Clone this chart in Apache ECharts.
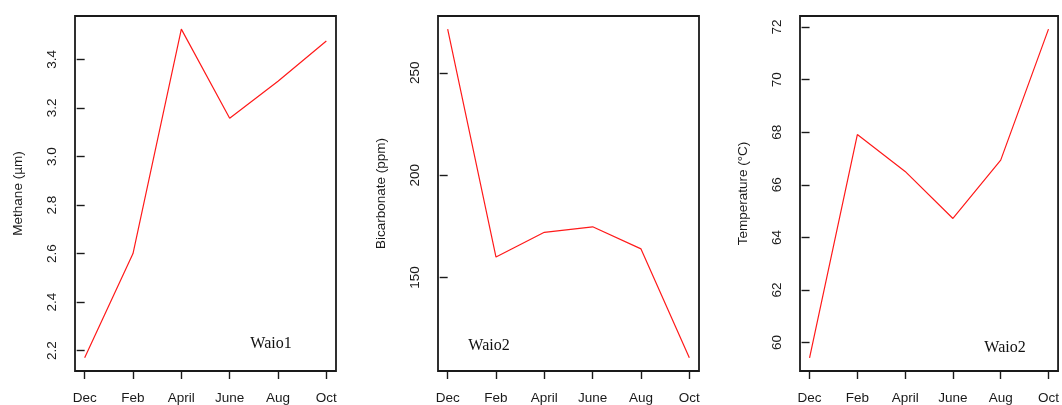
<!DOCTYPE html>
<html>
<head>
<meta charset="utf-8">
<script src="https://cdn.jsdelivr.net/npm/echarts@6/dist/echarts.min.js"></script>
<style>
  html, body { margin: 0; padding: 0; background: #fff; }
  #chart { width: 1062px; height: 405px; }
</style>
</head>
<body>
<div id="chart"></div>
<script>
// Sampling months
const months = ['Dec', 'Feb', 'April', 'June', 'Aug', 'Oct'];

// Measured series
const methane = [2.17, 2.60, 3.525, 3.158, 3.31, 3.476];
const bicarbonate = [271.3, 160.0, 172.1, 174.8, 164.0, 110.8];
const temperature = [59.42, 67.91, 66.51, 64.72, 66.94, 71.92];

// Tick values on each y axis
const methaneTicks = [2.2, 2.4, 2.6, 2.8, 3.0, 3.2, 3.4];
const bicarbonateTicks = [150, 200, 250];
const temperatureTicks = [60, 62, 64, 66, 68, 70, 72];

// Site labels
const siteLabels = ['Waio1', 'Waio2', 'Waio2'];

const monthIdx = months.map((_, i) => i);
const INK = '#1a1a1a';
const SANS = '"Liberation Sans", Arial, sans-serif';
const FS = 13.5;

// pad a data range by 4% on each side
function padded(vals) {
  const lo = Math.min(...vals), hi = Math.max(...vals);
  const p = (hi - lo) * 0.04;
  return [lo - p, hi + p];
}

const panels = [
  { vals: methane, ticks: methaneTicks, name: 'Methane (µm)', fmt: v => v.toFixed(1), left: 75, width: 261 },
  { vals: bicarbonate, ticks: bicarbonateTicks, name: 'Bicarbonate (ppm)', fmt: v => String(v), left: 438, width: 261 },
  { vals: temperature, ticks: temperatureTicks, name: 'Temperature (°C)', fmt: v => String(v), left: 800, width: 260 }
];

const grids = [], xAxes = [], yAxes = [], series = [];
panels.forEach((p, k) => {
  grids.push({
    left: p.left, top: 16, width: p.width, height: 358,
    show: true, borderColor: INK, borderWidth: 1.8, backgroundColor: 'transparent'
  });
  const xr = [-0.2, months.length - 1 + 0.2];
  xAxes.push({
    type: 'value', gridIndex: k, min: xr[0], max: xr[1],
    axisLine: { show: false },
    splitLine: { show: false },
    axisTick: { show: true, inside: false, length: 8, customValues: monthIdx, lineStyle: { color: INK, width: 1.4 } },
    axisLabel: {
      customValues: monthIdx, margin: 20, color: INK, fontFamily: SANS, fontSize: FS,
      formatter: v => months[Math.round(v)]
    }
  });
  const yr = padded(p.vals);
  yAxes.push({
    type: 'value', gridIndex: k, min: yr[0], max: yr[1],
    name: p.name, nameLocation: 'middle', nameGap: 50, nameRotate: 90,
    nameTextStyle: { color: INK, fontFamily: SANS, fontSize: FS },
    axisLine: { show: false },
    splitLine: { show: false },
    axisTick: { show: true, inside: false, length: 8, customValues: p.ticks, lineStyle: { color: INK, width: 1.4 } },
    axisLabel: {
      customValues: p.ticks, rotate: 90, margin: 16, color: INK, fontFamily: SANS, fontSize: FS,
      formatter: p.fmt
    }
  });
  series.push({
    type: 'line', xAxisIndex: k, yAxisIndex: k,
    data: p.vals.map((v, i) => [i, v]),
    showSymbol: false, symbol: 'none',
    lineStyle: { color: '#ff1a1a', width: 1.2 },
    silent: true, animation: false
  });
});

const chart = echarts.init(document.getElementById('chart'), null, { renderer: 'canvas' });
chart.setOption({
  animation: false,
  grid: grids, xAxis: xAxes, yAxis: yAxes, series: series
});

// site label inside each panel
const labelAnchors = [[271, 344], [489, 346], [1005, 348]];
chart.setOption({
  graphic: siteLabels.map((t, k) => ({
    type: 'text', x: labelAnchors[k][0], y: labelAnchors[k][1],
    style: {
      text: t, fill: '#111', font: '16px "Liberation Serif", "Times New Roman", serif',
      align: 'center', verticalAlign: 'middle'
    }
  }))
});
</script>
</body>
</html>
